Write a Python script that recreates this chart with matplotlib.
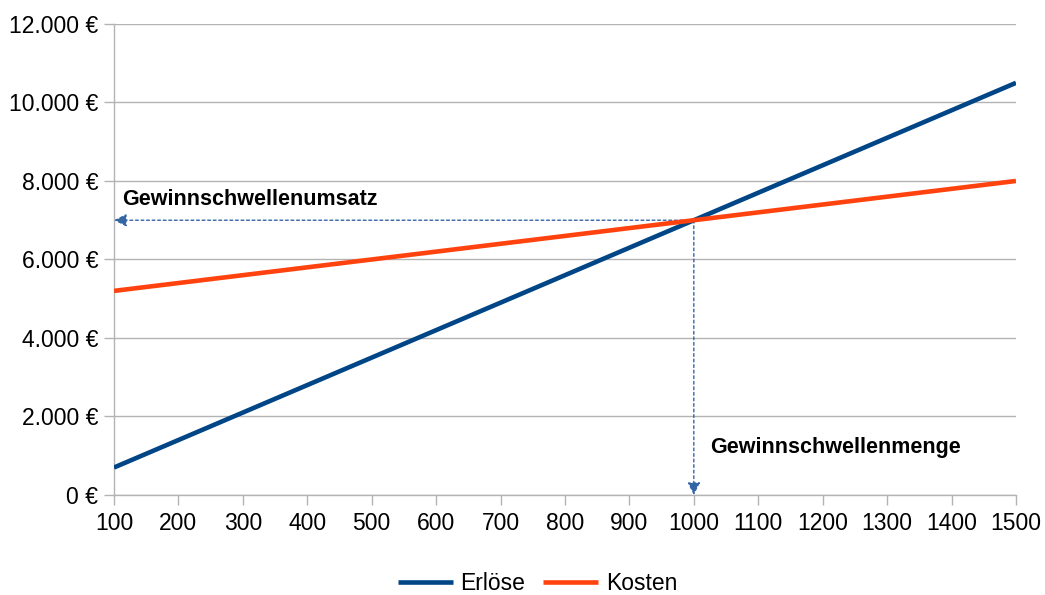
import matplotlib
matplotlib.use("Agg")
import matplotlib.pyplot as plt
from matplotlib.ticker import FuncFormatter

menge = [100, 200, 300, 400, 500, 600, 700, 800, 900, 1000, 1100, 1200, 1300, 1400, 1500]
erloese = [700, 1400, 2100, 2800, 3500, 4200, 4900, 5600, 6300, 7000, 7700, 8400, 9100, 9800, 10500]
kosten = [5200, 5400, 5600, 5800, 6000, 6200, 6400, 6600, 6800, 7000, 7200, 7400, 7600, 7800, 8000]
be_menge = 1000
be_umsatz = 7000
x_ticks = list(range(100, 1501, 100))
y_ticks = list(range(0, 12001, 2000))

plt.rcParams['font.family'] = ['Liberation Sans', 'DejaVu Sans']

fig = plt.figure(figsize=(10.45, 5.95), dpi=100)
ax = fig.add_axes([0.1091, 0.1681, 0.8631, 0.7916])

grid_c = '#b3b3b3'
fs = 16.5
fs_b = 15.5
ax.set_xlim(100, 1500)
ax.set_ylim(0, 12000)
ax.set_xticks(x_ticks)
ax.set_yticks(y_ticks)
ax.grid(axis='y', color=grid_c, linewidth=1)
ax.set_axisbelow(True)
for s in ['top', 'right']:
    ax.spines[s].set_visible(False)
for s in ['left', 'bottom']:
    ax.spines[s].set_color(grid_c)
    ax.spines[s].set_linewidth(1)
ax.tick_params(axis='both', color=grid_c, length=7.2, width=1, labelsize=fs)
ax.tick_params(axis='y', pad=4)
ax.tick_params(axis='x', pad=5)

def fmt(v, p):
    return f"{int(v):,}".replace(",", ".") + " €"
ax.yaxis.set_major_formatter(FuncFormatter(fmt))

ax.plot(menge, erloese, color='#004586', linewidth=3.3, label='Erlöse', solid_capstyle='butt', zorder=3)
ax.plot(menge, kosten, color='#ff420e', linewidth=3.3, label='Kosten', solid_capstyle='butt', zorder=3)

arrow_c = '#3465a4'
astyle = '-|>,head_length=0.75,head_width=0.38'
ax.annotate('', xy=(menge[0], be_umsatz), xytext=(be_menge, be_umsatz),
            arrowprops=dict(arrowstyle=astyle, color=arrow_c,
                            linestyle=(0, (2, 2)), linewidth=1, shrinkA=0, shrinkB=0), zorder=2)
ax.annotate('', xy=(be_menge, 0), xytext=(be_menge, be_umsatz),
            arrowprops=dict(arrowstyle=astyle, color=arrow_c,
                            linestyle=(0, (2, 2)), linewidth=1, shrinkA=0, shrinkB=0), zorder=2)

ax.text(113, 7520, 'Gewinnschwellenumsatz', fontsize=fs_b, fontweight='bold', ha='left', va='center')
ax.text(1026, 1220, 'Gewinnschwellenmenge', fontsize=fs_b, fontweight='bold', ha='left', va='center')

fig.legend(loc='center', bbox_to_anchor=(0.5 + 15 / 1045, 1 - 584 / 595), ncol=2, frameon=False,
           fontsize=fs, handlelength=2.4, columnspacing=0.8, handletextpad=0.33)

fig.savefig('out.png', dpi=100)
